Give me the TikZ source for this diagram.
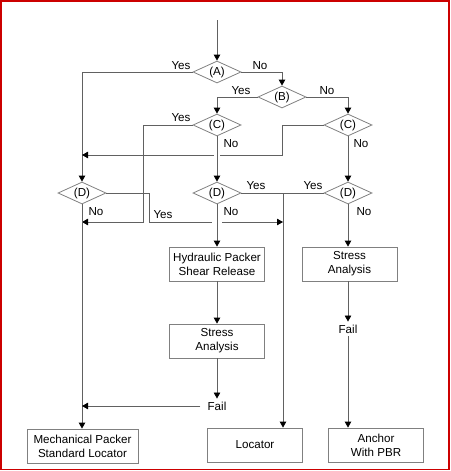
\documentclass[tikz,border=0pt]{standalone}
\usepackage{fontspec}
\setmainfont{Liberation Sans}
\usepackage{tikz}
\usetikzlibrary{arrows.meta}
\usetikzlibrary{positioning, shapes.geometric}
\colorlet{myline}{black!62}
\colorlet{mybox}{black!50}
\colorlet{myframe}{red!80!black}
\tikzset{
  >={Triangle[length=6,width=6.5,color=black]}, % black arrow heads on grey lines
  myfont/.style={font=\fontsize{11.6}{14}\selectfont},
  decision/.style={myfont,diamond,aspect=2.2,draw=mybox,line width=0.8,minimum width=48,minimum height=22,inner sep=0},
  block/.style={myfont,rectangle,draw=mybox,line width=0.8,align=center,minimum width=95,minimum height=34,inner sep=1},
  answer/.style={myfont,inner sep=0},
  result/.style={myfont,inner sep=3},
  connect/.style={myline,line width=0.8},
  connect arrow/.style={connect,->}
}

\begin{document}
\begin{tikzpicture}[x=1pt,y=-1pt]
    \useasboundingbox (0,0) rectangle (450,471);
    % Draw the frame
    \draw[myframe, line width=1.5] (0.8,0.8) rectangle (449.2,469.6);

    % Decisions
    \node[decision] (a)  at (217,72)  {(A)};
    \node[decision] (b)  at (282,97)  {(B)};
    \node[decision] (c1) at (217,125) {(C)};
    \node[decision] (c2) at (348,125) {(C)};
    \node[decision] (d1) at (82,193)  {(D)};
    \node[decision] (d2) at (217,193) {(D)};
    \node[decision] (d3) at (348,193) {(D)};

    % Boxes
    \node[block] (hyd) at (217,264) {Hydraulic Packer\\Shear Release};
    \node[block] (sa1) at (217,341) {Stress\\Analysis};
    \node[block] (sa2) at (349.5,264) {Stress\\Analysis};
    \node[block, minimum width=111] (mech) at (82.5,446) {Mechanical Packer\\Standard Locator};
    \node[block] (loc) at (255,445) {Locator};
    \node[block] (anc) at (376,445) {Anchor\\With PBR};
    \node[result] (f1) at (217,406) {Fail};
    \node[result] (f2) at (348,329) {Fail};

    % Bends of the connectors
    \coordinate (start) at (217,20);
    \coordinate (c1yes) at (143,222);
    \coordinate (c2yes) at (282,155);
    \coordinate (d1yes) at (149,222);
    \coordinate (dyes)  at (283,193);

    % Connectors
    \draw[connect arrow] (start) -- (a.north);
    \draw[connect arrow] (a.west) -| (d1.north);
    \draw[connect arrow] (a.east) -| (b.north);
    \draw[connect arrow] (b.west) -| (c1.north);
    \draw[connect arrow] (b.east) -| (c2.north);
    \draw[connect arrow] (c1.west) -| (c1yes) -- (c1yes -| d1.south);
    \draw[connect] (c2.west) -| (c2yes) -- ([xshift=3]c2yes -| c1.south);
    \draw[connect arrow] ([xshift=-3]c2yes -| c1.south) -- (c2yes -| d1.south);
    \draw[connect arrow] (c1.south) -- (d2.north);
    \draw[connect arrow] (c2.south) -- (d3.north);
    \draw[connect] (d1.east) -| (d1yes) -- ([xshift=-5]d1yes -| d2.south);
    \draw[connect arrow] ([xshift=5]d1yes -| d2.south) -- (d1yes -| dyes);
    \draw[connect] (d2.east) -- (d3.west);
    \draw[connect arrow] (dyes) -- (dyes |- loc.north);
    \draw[connect arrow] (d1.south) -- (d1.south |- mech.north);
    \draw[connect arrow] (d2.south) -- (hyd.north);
    \draw[connect arrow] (d3.south) -- (d3.south |- sa2.north);
    \draw[connect arrow] (hyd.south) -- (sa1.north);
    \draw[connect arrow] (sa1.south) -- (f1.north);
    \draw[connect arrow] ([xshift=-4]f1.west) -- (f1.west -| d1.south);
    \draw[connect arrow] (f2.north |- sa2.south) -- (f2.north);
    \draw[connect arrow] (f2.south) -- (f2.south |- anc.north);

    % Label the branches
    \node[answer] (ya)  at (181,66)  {Yes};
    \node[answer] (na)  at (260,66)  {No};
    \node[answer] (yb)  at (241,91)  {Yes};
    \node[answer] (nb)  at (327,91)  {No};
    \node[answer] (yc1) at (181,118) {Yes};
    \node[answer] (nc1) at (231,144) {No};
    \node[answer] (nc2) at (361,144) {No};
    \node[answer] (nd1) at (96,212)  {No};
    \node[answer] (yd1) at (163,215) {Yes};
    \node[answer] (yd2) at (256,186) {Yes};
    \node[answer] (yd3) at (313,186) {Yes};
    \node[answer] (nd2) at (231,212) {No};
    \node[answer] (nd3) at (364,212) {No};
\end{tikzpicture}
\end{document}
